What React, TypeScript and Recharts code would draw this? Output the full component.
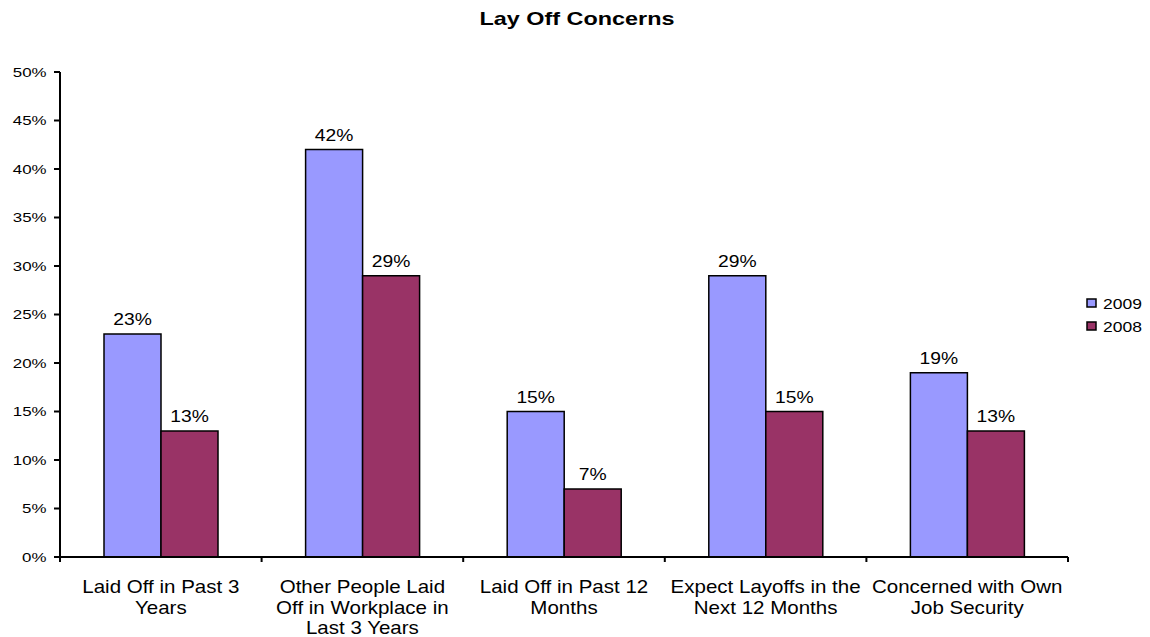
import React from "react";
import { BarChart, Bar, XAxis, YAxis, Legend, LabelList } from "recharts";

const categories = [
  "Laid Off in Past 3|Years",
  "Other People Laid|Off in Workplace in|Last 3 Years",
  "Laid Off in Past 12|Months",
  "Expect Layoffs in the|Next 12 Months",
  "Concerned with Own|Job Security",
];
const values2009 = [0.23, 0.42, 0.15, 0.29, 0.19];
const values2008 = [0.13, 0.29, 0.07, 0.15, 0.13];
const yTicks = [0, 0.05, 0.1, 0.15, 0.2, 0.25, 0.3, 0.35, 0.4, 0.45, 0.5];
const seriesNames = ["2009", "2008"];
const colors = ["#9999FF", "#993366"];
const title = "Lay Off Concerns";

const data = categories.map((c, i) => ({ name: c, s2009: values2009[i], s2008: values2008[i] }));

const pct = (v: number) => `${Math.round(v * 100)}%`;
const FONT = "Liberation Sans, Arial, sans-serif";

const STxt = (p: any) => (
  <text
    transform={`translate(${p.x},${p.y}) scale(${p.sx},1)`}
    x={0}
    y={0}
    textAnchor={p.anchor || "middle"}
    fontSize={p.size}
    fontWeight={p.weight || "normal"}
    fill="#000"
    fontFamily={FONT}
  >
    {p.children}
  </text>
);

const XTick = (props: any) => {
  const { x, y, payload, index } = props;
  const lines = String(payload.value).split("|");
  const half = payload.offset || 0;
  return (
    <g>
      <line x1={x - half} x2={x - half} y1={y - 8} y2={y - 3} stroke="#000" strokeWidth={2} />
      {index === categories.length - 1 && (
        <line x1={x + half} x2={x + half} y1={y - 8} y2={y - 3} stroke="#000" strokeWidth={2} />
      )}
      {lines.map((l, i) => (
        <STxt key={i} x={x} y={y + 28 + i * 20.5} size={18} sx={1.14}>
          {l}
        </STxt>
      ))}
    </g>
  );
};

const YTick = (props: any) => {
  const { x, y, payload } = props;
  return (
    <STxt x={x} y={y + 4.8} size={13.5} sx={1.25} anchor="end">
      {pct(payload.value)}
    </STxt>
  );
};

const ValueLabel = (props: any) => {
  const { x, y, width, value } = props;
  return (
    <STxt x={Number(x) + Number(width) / 2} y={Number(y) - 9} size={16.5} sx={1.17}>
      {pct(value)}
    </STxt>
  );
};

const LegendContent = () => (
  <svg width={64} height={50} style={{ display: "block" }}>
    {seriesNames.map((n, i) => (
      <g key={n}>
        <rect x={1} y={5 + i * 23} width={9} height={8} fill={colors[i]} stroke="#000" strokeWidth={1.5} />
        <STxt x={17} y={15 + i * 23} size={14} sx={1.25} anchor="start">
          {n}
        </STxt>
      </g>
    ))}
  </svg>
);

export default function App() {
  return (
    <div style={{ position: "absolute", left: 0, top: 0, width: 1150, height: 637, background: "#fff" }}>
      <svg width={1150} height={40} style={{ position: "absolute", left: 0, top: 0 }}>
        <STxt x={577} y={25} size={18} sx={1.3} weight="bold">
          {title}
        </STxt>
      </svg>
      <BarChart
        width={1150}
        height={637}
        data={data}
        margin={{ top: 72, right: 18, bottom: 0, left: 0 }}
        barGap={0}
        barSize={57}
      >
        <YAxis
          width={60}
          domain={[0, 0.5]}
          ticks={yTicks}
          tickSize={6}
          tickMargin={7.5}
          axisLine={{ stroke: "#000", strokeWidth: 2 }}
          tickLine={{ stroke: "#000", strokeWidth: 2 }}
          tick={<YTick />}
          interval={0}
        />
        <XAxis
          dataKey="name"
          height={80}
          axisLine={{ stroke: "#000", strokeWidth: 2 }}
          tickLine={false}
          tick={<XTick />}
          interval={0}
        />
        <Legend
          layout="vertical"
          align="right"
          verticalAlign="middle"
          content={<LegendContent />}
          wrapperStyle={{ width: 64, left: 1086, top: 294 }}
        />
        <Bar dataKey="s2009" name={seriesNames[0]} fill={colors[0]} stroke="#000" strokeWidth={1.5} isAnimationActive={false}>
          <LabelList dataKey="s2009" content={<ValueLabel />} />
        </Bar>
        <Bar dataKey="s2008" name={seriesNames[1]} fill={colors[1]} stroke="#000" strokeWidth={1.5} isAnimationActive={false}>
          <LabelList dataKey="s2008" content={<ValueLabel />} />
        </Bar>
      </BarChart>
    </div>
  );
}
